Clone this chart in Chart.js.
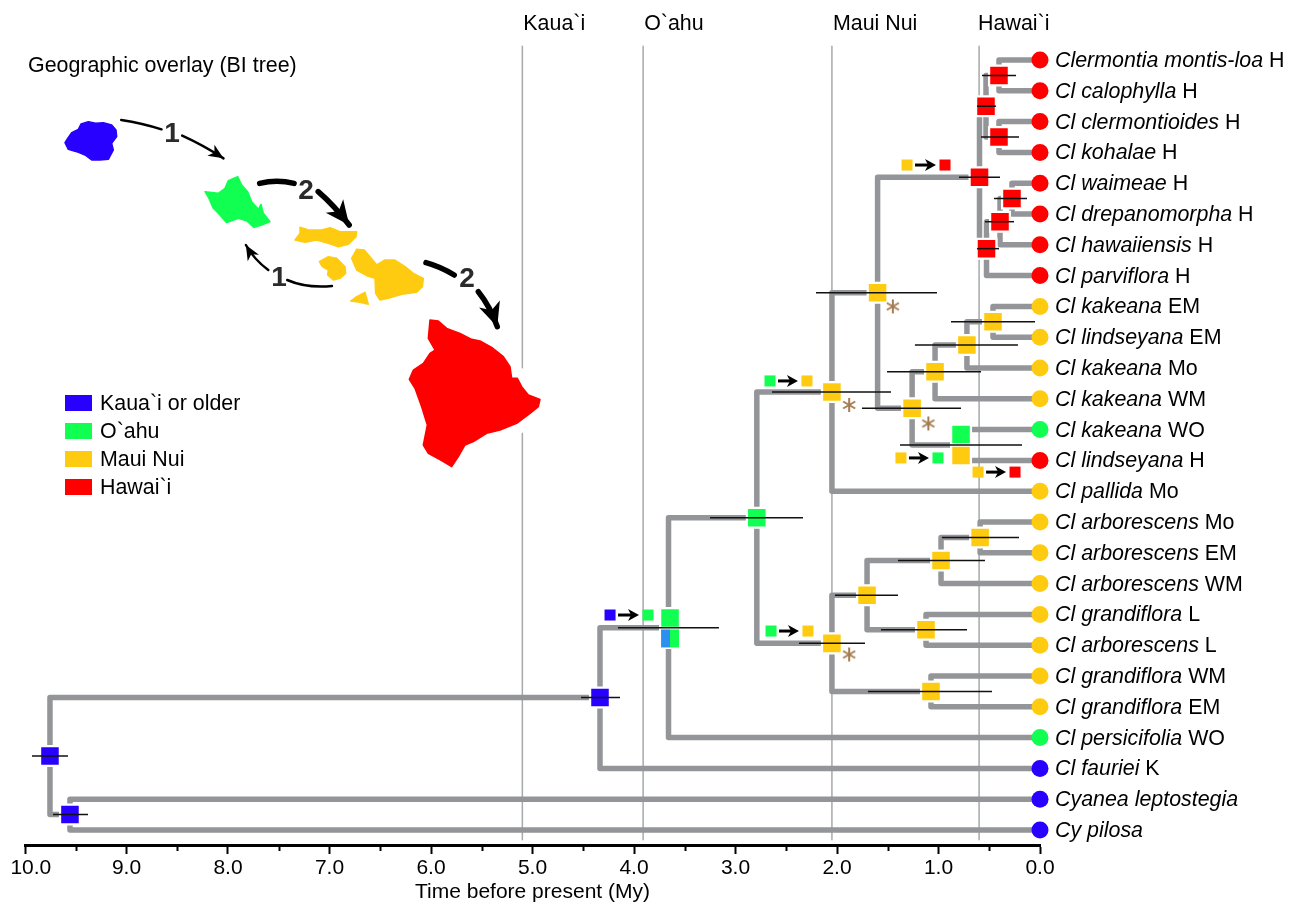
<!DOCTYPE html>
<html>
<head>
<meta charset="utf-8">
<title>Geographic overlay</title>
<script src="https://cdn.jsdelivr.net/npm/chart.js@4"></script>
<style>
  html, body { margin: 0; padding: 0; background: #fff; }
  canvas { display: block; }
</style>
</head>
<body>
<canvas id="tree" width="1297" height="905"></canvas>
<script>
// Colours by island
const AREA_COLORS = { K: '#2800ff', O: '#10ff50', M: '#ffcb11', H: '#ff0000' };
const BRANCH_COLOR = '#939598';
const LINE_COLOR = '#a7a9ac';
const STAR_COLOR = '#a67c52';
const FONT = '"Liberation Sans", Arial, sans-serif';

// Tips, top to bottom (row = index + 1)
const tipNames = ['Clermontia montis-loa', 'Cl calophylla', 'Cl clermontioides', 'Cl kohalae', 'Cl waimeae',
  'Cl drepanomorpha', 'Cl hawaiiensis', 'Cl parviflora', 'Cl kakeana', 'Cl lindseyana', 'Cl kakeana', 'Cl kakeana',
  'Cl kakeana', 'Cl lindseyana', 'Cl pallida', 'Cl arborescens', 'Cl arborescens', 'Cl arborescens', 'Cl grandiflora',
  'Cl arborescens', 'Cl grandiflora', 'Cl grandiflora', 'Cl persicifolia', 'Cl fauriei', 'Cyanea leptostegia', 'Cy pilosa'];
const tipSuffix = ['H', 'H', 'H', 'H', 'H', 'H', 'H', 'H', 'EM', 'EM', 'Mo', 'WM', 'WO', 'H', 'Mo', 'Mo', 'EM', 'WM',
  'L', 'L', 'WM', 'EM', 'WO', 'K', '', ''];
const tipAreas = ['H', 'H', 'H', 'H', 'H', 'H', 'H', 'H', 'M', 'M', 'M', 'M', 'O', 'H', 'M', 'M', 'M', 'M', 'M', 'M',
  'M', 'M', 'O', 'K', 'K', 'K'];
const tipParents = ['A', 'A', 'B', 'B', 'D', 'D', 'E', 'F', 'I', 'I', 'K', 'L', 'N', 'N', 'P', 'W', 'W', 'U', 'V', 'V',
  'T', 'T', 'X', 'Y', 'AA', 'AA'];

// Internal nodes
const nodeIds =     ['A', 'B', 'C', 'D', 'E', 'F', 'G', 'H', 'I', 'K', 'L', 'M', 'N', 'P', 'Q', 'R', 'S', 'T', 'U', 'V', 'W', 'X', 'Y', 'Z', 'AA'];
const nodeParents = ['C', 'C', 'G', 'E', 'F', 'G', 'H', 'P', 'K', 'L', 'M', 'H', 'M', 'Q', 'X', 'Q', 'R', 'R', 'S', 'S', 'U', 'Y', 'Z', null, 'Z'];
const nodeAges =    [0.404, 0.404, 0.532, 0.276, 0.394, 0.527, 0.596, 1.60, 0.463, 0.72, 1.034, 1.26, 0.778, 2.05, 2.79, 2.05, 1.704, 1.074, 0.975, 1.123, 0.59, 3.66, 4.335, 9.754, 9.557];
const nodeRows =    [1.5, 3.5, 2.5, 5.5, 6.25, 7.125, 4.81, 8.56, 9.5, 10.25, 11.125, 12.31, 13.5, 11.78, 15.86, 19.94, 18.375, 21.5, 17.25, 19.5, 16.5, 19.43, 21.7, 23.6, 25.5];
const nodeAreas =   ['H', 'H', 'H', 'H', 'H', 'H', 'H', 'M', 'M', 'M', 'M', 'M', null, 'M', 'O', 'M', 'M', 'M', 'M', 'M', 'M', null, 'K', 'K', 'K'];
const nodeOlder =   [0.571, 0.581, 0.621, 0.453, 0.542, 0.621, 0.798, 2.207, 0.877, 1.232, 1.507, 1.754, 1.379, 2.64, 3.251, 2.374, 2.02, 1.695, 1.399, 1.567, 0.966, 4.158, 4.522, 9.931, 9.724];
const nodeYounger = [0.236, 0.207, 0.433, 0.128, 0.256, 0.404, 0.394, 1.015, 0.049, 0.217, 0.581, 0.778, 0.177, 1.468, 2.335, 1.724, 1.399, 0.473, 0.542, 0.719, 0.207, 3.163, 4.138, 9.576, 9.379];

// Nodes with two stacked states (ambiguous reconstruction)
const stackAges = [0.778, 0.778, 3.645];
const stackRows = [13.16, 13.84, 19.12];
const stackAreas = ['O', 'M', 'O'];
const splitAge = 3.645;
const splitRow = 19.78;

// Dispersal events: small square -> small square
const moveFromAges = [1.31, 2.66, 1.37, 0.61, 4.236, 2.65];
const moveToAges = [0.936, 2.296, 1.005, 0.246, 3.862, 2.286];
const moveRows = [4.41, 11.42, 13.92, 14.38, 19.02, 19.54];
const moveFromAreas = ['M', 'O', 'M', 'M', 'K', 'O'];
const moveToAreas = ['H', 'M', 'O', 'H', 'O', 'M'];

// Asterisks
const starAges = [1.45, 1.88, 1.10, 1.88];
const starRows = [9.0, 12.2, 12.8, 20.3];

// Island emergence lines
const regionNames = ['Kaua`i', 'O`ahu', 'Maui Nui', 'Hawai`i'];
const regionAges = [5.10, 3.91, 2.05, 0.60];

const legendNames = ['Kaua`i or older', 'O`ahu', 'Maui Nui', 'Hawai`i'];
const legendAreas = ['K', 'O', 'M', 'H'];

// Island outlines traced at 3x from the map, each with the origin of its crop
const originWest = [55, 110];
const originMaui = [285, 215];
const originBig = [400, 310];
const islandKauai = [30,98, 38,85, 50,68, 70,58, 78,42, 100,35, 122,40, 145,38, 170,45, 183,60, 185,80, 170,100, 175,120, 160,148, 135,150, 110,150, 90,135, 65,125, 40,118];
const islandOahu = [450,245, 490,250, 510,235, 520,212, 548,200, 560,225, 578,245, 590,275, 610,298, 618,283, 625,310, 645,335, 620,345, 597,352, 575,332, 550,325, 515,338, 490,310, 475,295, 462,265];
const islandMolokai = [30,75, 45,55, 45,37, 70,45, 110,45, 135,38, 165,50, 215,50, 213,65, 190,88, 160,95, 130,85, 95,75, 60,82];
const islandLanai = [103,140, 130,125, 155,130, 180,155, 182,175, 165,190, 145,195, 128,180, 130,165, 112,155];
const islandMaui = [200,130, 215,103, 238,105, 255,125, 275,150, 300,135, 330,135, 360,155, 385,175, 415,190, 412,215, 395,232, 350,238, 310,250, 285,255, 272,235, 270,190, 245,182, 215,165];
const islandKahoolawe = [197,258, 215,245, 240,232, 250,268, 225,262];
const islandHawaii = [90,30, 115,33, 140,55, 180,70, 215,88, 240,93, 275,112, 310,140, 330,170, 335,205, 352,205, 365,230, 385,255, 420,268, 415,290, 390,310, 350,340, 300,360, 260,370, 220,395, 195,405, 175,440, 155,470, 125,452, 85,430, 70,405, 82,345, 65,290, 45,235, 28,208, 40,180, 70,160, 90,130, 105,120, 85,85];

const mapX = v => v / 2.904 + 10;
const mapY = v => v / 3 + 40;

function nodeIndex(id) {
  return nodeIds.indexOf(id);
}

// Elbow from a parent to a child
function elbow(parentId, age, row) {
  const p = nodeIndex(parentId);
  return [
    { x: nodeAges[p], y: nodeRows[p] },
    { x: nodeAges[p], y: row },
    { x: age, y: row }
  ];
}

const lineBase = { showLine: true, pointRadius: 0, clip: false, borderJoinStyle: 'round', borderCapStyle: 'butt' };
const datasets = [];

regionAges.forEach(age => {
  datasets.push({ ...lineBase, data: [{ x: age, y: 0.55 }, { x: age, y: 26.32 }], borderColor: LINE_COLOR, borderWidth: 1.5, order: 6 });
});

tipNames.forEach((name, i) => {
  datasets.push({ ...lineBase, data: elbow(tipParents[i], 0, i + 1), borderColor: BRANCH_COLOR, borderWidth: 5.5, order: 5 });
});
nodeIds.forEach((id, i) => {
  if (!nodeParents[i]) return;
  datasets.push({ ...lineBase, data: elbow(nodeParents[i], nodeAges[i], nodeRows[i]), borderColor: BRANCH_COLOR, borderWidth: 5.5, order: 5 });
});

// Tip circles
datasets.push({
  data: tipNames.map((n, i) => ({ x: 0, y: i + 1 })),
  pointStyle: 'circle', pointRadius: 8.5, pointBorderWidth: 0,
  pointBackgroundColor: tipAreas.map(a => AREA_COLORS[a]), clip: false, order: 4
});

// Node squares, with a white halo over the branches
const squareBase = { pointStyle: 'rect', pointRadius: 14, pointBorderWidth: 2.25, pointBorderColor: '#fff', clip: false, order: 3 };
const plainNodes = nodeIds.map((id, i) => i).filter(i => nodeAreas[i]);
datasets.push({
  ...squareBase,
  data: plainNodes.map(i => ({ x: nodeAges[i], y: nodeRows[i] })),
  pointBackgroundColor: plainNodes.map(i => AREA_COLORS[nodeAreas[i]])
});
datasets.push({
  ...squareBase,
  data: stackAges.map((a, i) => ({ x: a, y: stackRows[i] })),
  pointBackgroundColor: stackAreas.map(a => AREA_COLORS[a])
});

// Half blue, half green square
const splitSquare = document.createElement('canvas');
splitSquare.width = 22;
splitSquare.height = 22;
{
  const c = splitSquare.getContext('2d');
  c.fillStyle = '#fff';
  c.fillRect(0, 0, 22, 22);
  c.fillStyle = '#2e90ee';
  c.fillRect(2, 2, 9, 18);
  c.fillStyle = AREA_COLORS.O;
  c.fillRect(11, 2, 9, 18);
}
datasets.push({ data: [{ x: splitAge, y: splitRow }], pointStyle: splitSquare, clip: false, order: 3 });

// Confidence intervals
nodeIds.forEach((id, i) => {
  datasets.push({
    ...lineBase,
    data: [{ x: nodeOlder[i], y: nodeRows[i] }, { x: nodeYounger[i], y: nodeRows[i] }],
    borderColor: '#111', borderWidth: 1.5, order: 2
  });
});

// Small squares of the dispersal events
datasets.push({
  data: moveRows.flatMap((r, i) => [{ x: moveFromAges[i], y: r }, { x: moveToAges[i], y: r }]),
  pointStyle: 'rect', pointRadius: 7.8, pointBorderWidth: 0,
  pointBackgroundColor: moveRows.flatMap((r, i) => [AREA_COLORS[moveFromAreas[i]], AREA_COLORS[moveToAreas[i]]]),
  clip: false, order: 1
});

// Asterisk marker
const starMark = document.createElement('canvas');
starMark.width = 18;
starMark.height = 18;
{
  const c = starMark.getContext('2d');
  c.strokeStyle = STAR_COLOR;
  c.lineWidth = 2;
  [90, 30, 150].forEach(deg => {
    const dx = Math.cos(deg * Math.PI / 180) * 7;
    const dy = Math.sin(deg * Math.PI / 180) * 7;
    c.beginPath();
    c.moveTo(9 - dx, 9 - dy);
    c.lineTo(9 + dx, 9 + dy);
    c.stroke();
  });
}
datasets.push({ data: starAges.map((a, i) => ({ x: a, y: starRows[i] })), pointStyle: starMark, clip: false, order: 1 });

function arrowHead(ctx, x, y, angle, len, wide) {
  ctx.save();
  ctx.translate(x, y);
  ctx.rotate(angle);
  ctx.beginPath();
  ctx.moveTo(0, 0);
  ctx.lineTo(-len, -wide / 2);
  ctx.lineTo(-len * 0.72, 0);
  ctx.lineTo(-len, wide / 2);
  ctx.closePath();
  ctx.fill();
  ctx.restore();
}

function mapCurve(ctx, pts, width, head) {
  const [x0, y0, cx, cy, x1, y1] = [mapX(pts[0]), mapY(pts[1]), mapX(pts[2]), mapY(pts[3]), mapX(pts[4]), mapY(pts[5])];
  ctx.lineWidth = width;
  ctx.lineCap = 'round';
  ctx.beginPath();
  ctx.moveTo(x0, y0);
  ctx.quadraticCurveTo(cx, cy, x1, y1);
  ctx.stroke();
  if (head) arrowHead(ctx, x1, y1, Math.atan2(y1 - cy, x1 - cx), head[0], head[1]);
}

const decorPlugin = {
  id: 'decor',
  afterDatasetsDraw(chart) {
    const { ctx, scales: { x, y } } = chart;
    ctx.save();

    // Minor axis ticks
    ctx.strokeStyle = '#000';
    ctx.lineWidth = 2;
    for (let t = 0.5; t < 10; t += 1) {
      const px = Math.round(x.getPixelForValue(t)) + 0.5;
      ctx.beginPath();
      ctx.moveTo(px, y.bottom);
      ctx.lineTo(px, y.bottom + 6);
      ctx.stroke();
    }

    // Dispersal arrows
    ctx.fillStyle = '#000';
    ctx.strokeStyle = '#000';
    moveRows.forEach((r, i) => {
      const x0 = x.getPixelForValue(moveFromAges[i]) + 8;
      const x1 = x.getPixelForValue(moveToAges[i]) - 9;
      const py = y.getPixelForValue(r);
      ctx.lineWidth = 3;
      ctx.lineCap = 'butt';
      ctx.beginPath();
      ctx.moveTo(x0, py);
      ctx.lineTo(x1 - 4, py);
      ctx.stroke();
      arrowHead(ctx, x1, py, 0, 11, 12);
    });

    // Islands
    const islands = [
      [islandKauai, 'K', originWest], [islandOahu, 'O', originWest], [islandMolokai, 'M', originMaui],
      [islandLanai, 'M', originMaui], [islandMaui, 'M', originMaui], [islandKahoolawe, 'M', originMaui],
      [islandHawaii, 'H', originBig]
    ];
    ctx.lineJoin = 'round';
    islands.forEach(([pts, area, origin]) => {
      ctx.beginPath();
      for (let i = 0; i < pts.length; i += 2) {
        ctx.lineTo(origin[0] + pts[i] / 3, origin[1] + pts[i + 1] / 3);
      }
      ctx.closePath();
      // White margin: cuts the Kaua`i line around the big island
      if (area === 'H') {
        ctx.strokeStyle = '#fff';
        ctx.lineWidth = 22;
        ctx.stroke();
      }
      ctx.fillStyle = AREA_COLORS[area];
      ctx.strokeStyle = AREA_COLORS[area];
      ctx.lineWidth = 1.5;
      ctx.fill();
      ctx.stroke();
    });

    // Map arrows
    ctx.strokeStyle = '#000';
    ctx.fillStyle = '#000';
    mapCurve(ctx, [323,240, 385,250, 440,268], 2.5);
    mapCurve(ctx, [500,287, 560,315, 620,355], 2.5, [15, 13]);
    mapCurve(ctx, [725,430, 775,418, 825,430], 5.5);
    mapCurve(ctx, [895,455, 940,495, 985,555], 5.5, [24, 22]);
    mapCurve(ctx, [935,738, 860,745, 805,720], 2.5);
    mapCurve(ctx, [750,690, 710,660, 685,615], 2.5, [15, 13]);
    mapCurve(ctx, [1208,668, 1250,680, 1290,705], 5.5);
    mapCurve(ctx, [1360,755, 1395,800, 1415,860], 5.5, [24, 22]);

    ctx.fillStyle = '#2b2b2b';
    ctx.font = 'bold 28px ' + FONT;
    ctx.textAlign = 'center';
    ctx.textBaseline = 'middle';
    ctx.fillText('1', 172, 134);
    ctx.fillText('2', 306, 191);
    ctx.fillText('1', 279, 278);
    ctx.fillText('2', 467, 279);

    // Map title and legend
    ctx.fillStyle = '#000';
    ctx.textAlign = 'left';
    ctx.textBaseline = 'alphabetic';
    ctx.font = '21.4px ' + FONT;
    ctx.fillText('Geographic overlay (BI tree)', 28, 72);
    legendNames.forEach((name, i) => {
      const top = 395 + i * 28;
      ctx.fillStyle = AREA_COLORS[legendAreas[i]];
      ctx.fillRect(65, top, 27, 16);
      ctx.fillStyle = '#000';
      ctx.fillText(name, 100, top + 15);
    });

    // Names over the island lines
    regionNames.forEach((name, i) => {
      ctx.fillText(name, x.getPixelForValue(regionAges[i]) + (i === 3 ? -1 : 1), 30);
    });

    // Tip labels, name in italics
    const labelX = x.getPixelForValue(0) + 15;
    tipNames.forEach((name, i) => {
      const py = y.getPixelForValue(i + 1) + 7;
      ctx.font = 'italic 21.4px ' + FONT;
      ctx.fillText(name, labelX, py);
      const w = ctx.measureText(name + ' ').width;
      ctx.font = '21.4px ' + FONT;
      ctx.fillText(tipSuffix[i], labelX + w, py);
    });

    ctx.restore();
  }
};

new Chart(document.getElementById('tree'), {
  type: 'scatter',
  data: { datasets },
  plugins: [decorPlugin],
  options: {
    responsive: false,
    animation: false,
    layout: { padding: { left: 25, right: 257, top: 45, bottom: 0 } },
    plugins: { legend: { display: false }, tooltip: { enabled: false } },
    scales: {
      x: {
        type: 'linear',
        reverse: true,
        min: 0,
        max: 10,
        border: { color: '#000', width: 3 },
        grid: { drawOnChartArea: false, drawTicks: true, tickLength: 9, tickColor: '#000', tickWidth: 2 },
        ticks: {
          stepSize: 1,
          autoSkip: false,
          maxRotation: 0,
          padding: 2,
          color: '#000',
          font: { family: FONT, size: 21 },
          callback: v => (v === 10 ? '  10.0' : v.toFixed(1))
        },
        title: {
          display: true,
          text: 'Time before present (My)',
          color: '#000',
          padding: { top: 0, bottom: 0 },
          font: { family: FONT, size: 21 }
        },
        afterFit(scale) {
          scale.height = 60;
          scale.paddingLeft = 0;
          scale.paddingRight = 0;
        }
      },
      y: { type: 'linear', display: false, reverse: true, min: 0.513, max: 26.487 }
    }
  }
});
</script>
</body>
</html>
